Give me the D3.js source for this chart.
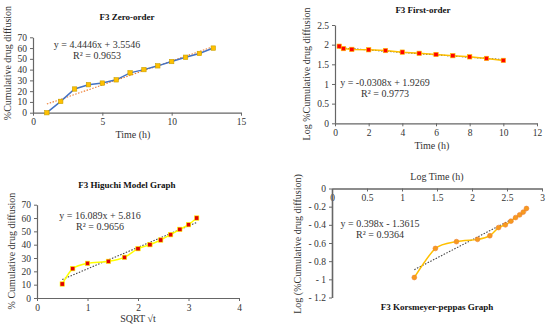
<!DOCTYPE html>
<html>
<head>
<meta charset="utf-8">
<script src="https://cdn.jsdelivr.net/npm/d3@7"></script>
<style>
  body { margin: 0; background: #fff; }
</style>
</head>
<body>
<svg id="chart" width="550" height="328"></svg>
<script>
// Zero-order
const zeroTime = [1, 2, 3, 4, 5, 6, 7, 8, 9, 10, 11, 12, 13];
const zeroRelease = [0, 10.5, 22, 26, 27.5, 30.5, 37, 40, 43.5, 47.5, 51.5, 55, 60];
const zeroFit = [4.4446, 3.5546];

// First-order
const firstTime = [0.25, 0.5, 1, 2, 3, 4, 5, 6, 7, 8, 9, 10];
const firstLog = [1.96, 1.90, 1.88, 1.87, 1.85, 1.81, 1.78, 1.75, 1.72, 1.69, 1.65, 1.60];
const firstFit = [-0.0308, 1.9269];

// Higuchi
const higuchiSqrt = [0.5, 0.707, 1, 1.414, 1.732, 2, 2.236, 2.449, 2.646, 2.828, 3, 3.162];
const higuchiRelease = [10.5, 22, 26, 27.5, 30.5, 37, 40, 43.5, 47.5, 51.5, 55, 60];
const higuchiFit = [16.089, 5.816];

// Korsmeyer-peppas
const kpLogTime = [1.176, 1.477, 1.778, 2.079, 2.255, 2.380, 2.477, 2.556, 2.623, 2.681, 2.732, 2.778];
const kpLogRelease = [-0.98, -0.66, -0.585, -0.56, -0.52, -0.43, -0.40, -0.36, -0.32, -0.29, -0.26, -0.22];
const kpFit = [0.398, -1.3615];

const FONT = "'Liberation Serif', 'Times New Roman', 'DejaVu Serif', serif";
const svg = d3.select("svg#chart");

function drawPanel(p) {
    const g = svg.append("g");
    const x = d3.scaleLinear().domain(p.xDomain).range(p.xRange);
    const y = d3.scaleLinear().domain(p.yDomain).range(p.yRange);

    const xAxisY = p.xAxisAt !== undefined ? y(p.xAxisAt) : p.yRange[0];

    const xa = g.append("g")
        .attr("transform", `translate(0,${xAxisY})`)
        .call(d3.axisBottom(x).tickValues(p.xTicks).tickSize(3).tickSizeOuter(0).tickFormat(p.xFormat || d3.format("")));
    const ya = g.append("g")
        .attr("transform", `translate(${p.xRange[0]},0)`)
        .call(d3.axisLeft(y).tickValues(p.yTicks).tickSize(3).tickSizeOuter(0).tickFormat(p.yFormat || d3.format("")));

    [xa, ya].forEach(a => {
        a.attr("font-family", null);
        a.select(".domain").attr("stroke", "#666").attr("stroke-width", p.axisWidth || 1.2);
        a.selectAll(".tick line").attr("stroke", "#666");
        a.selectAll("text").style("font-family", FONT).style("font-size", "9.5px").style("fill", "#333");
    });

    // trendline from the fitted equation
    const tx = d3.extent(p.xs);
    g.append("line")
        .attr("x1", x(tx[0])).attr("y1", y(p.fit[0] * tx[0] + p.fit[1]))
        .attr("x2", x(tx[1])).attr("y2", y(p.fit[0] * tx[1] + p.fit[1]))
        .attr("stroke", p.trendColor)
        .attr("stroke-width", 1.1)
        .attr("stroke-dasharray", "1.5,1.5");

    const pts = p.xs.map((v, i) => [v, p.ys[i]]);
    g.append("path")
        .attr("d", d3.line().x(d => x(d[0])).y(d => y(d[1])).curve(p.curve || d3.curveLinear)(pts))
        .attr("fill", "none")
        .attr("stroke", p.lineColor)
        .attr("stroke-width", 1.5);

    if (p.marker === "circle") {
        g.selectAll(".pt").data(pts).enter().append("circle")
            .attr("cx", d => x(d[0])).attr("cy", d => y(d[1])).attr("r", 2.4)
            .attr("fill", p.markerFill).attr("stroke", p.markerStroke).attr("stroke-width", 0.6);
    } else {
        g.selectAll(".pt").data(pts).enter().append("rect")
            .attr("x", d => x(d[0]) - 2.2).attr("y", d => y(d[1]) - 2.2)
            .attr("width", 4.4).attr("height", 4.4)
            .attr("fill", p.markerFill).attr("stroke", p.markerStroke).attr("stroke-width", 0.6);
    }

    // titles and labels
    const txt = (s, xx, yy, size) => g.append("text").attr("x", xx).attr("y", yy)
        .attr("text-anchor", "middle").style("font-family", FONT).style("font-size", size + "px")
        .style("fill", "#333").text(s);

    txt(p.title[0], p.title[1], p.title[2], 9).style("font-weight", "bold").style("fill", "#111");
    txt(p.xLabel[0], p.xLabel[1], p.xLabel[2], 10);
    g.append("text")
        .attr("transform", `translate(${p.yLabel[1]},${p.yLabel[2]}) rotate(-90)`)
        .attr("text-anchor", "middle").style("font-family", FONT).style("font-size", "10px")
        .style("fill", "#333").text(p.yLabel[0]);
    txt(p.eq[0], p.eq[1], p.eq[2], 10);
    txt(p.r2, p.eq[1], p.eq[2] + 10.5, 10);
}

drawPanel({
    xs: zeroTime, ys: zeroRelease, fit: zeroFit,
    xDomain: [0, 15], xRange: [33, 241], yDomain: [0, 70], yRange: [112.7, 37.3],
    xTicks: [0, 5, 10, 15], yTicks: d3.range(0, 71, 10),
    lineColor: "#4472c4", trendColor: "#ed7d31", markerFill: "#ffc000", markerStroke: "#c9a000",
    title: ["F3 Zero-order", 127, 20], xLabel: ["Time (h)", 133, 138],
    yLabel: ["%Cumulative drug diffusion", 11, 63],
    eq: ["y = 4.4446x + 3.5546", 97, 48], r2: "R\u00b2 = 0.9653"
});

drawPanel({
    xs: firstTime, ys: firstLog, fit: firstFit,
    xDomain: [0, 12], xRange: [335, 537], yDomain: [0, 2.5], yRange: [123.3, 25],
    xTicks: d3.range(0, 13, 2), yTicks: [0, 0.5, 1, 1.5, 2, 2.5],
    lineColor: "#ffc000", trendColor: "#333", markerFill: "#ff0000", markerStroke: "#ffc000",
    title: ["F3 First-order", 423, 13], xLabel: ["Time (h)", 432, 149],
    yLabel: ["Log %Cumulative drug diffusion", 310, 74],
    eq: ["y = -0.0308x + 1.9269", 385, 86], r2: "R\u00b2 = 0.9773"
});

drawPanel({
    xs: higuchiSqrt, ys: higuchiRelease, fit: higuchiFit,
    xDomain: [0, 4], xRange: [37, 239], yDomain: [0, 70], yRange: [298, 204.7],
    xTicks: [0, 1, 2, 3, 4], yTicks: d3.range(0, 71, 10),
    curve: d3.curveCardinal.tension(0.2),
    lineColor: "#ffff00", trendColor: "#444", markerFill: "#e00000", markerStroke: "#ffff00",
    title: ["F3 Higuchi Model Graph", 127, 188], xLabel: ["SQRT \u221at", 138, 322],
    yLabel: ["% Cumulative drug diffusion", 15, 251],
    eq: ["y = 16.089x + 5.816", 100, 219], r2: "R\u00b2 = 0.9656"
});

drawPanel({
    xs: kpLogTime, ys: kpLogRelease, fit: kpFit,
    xDomain: [0, 3], xRange: [332, 542], yDomain: [-1.2, 0], yRange: [297.5, 188.5], xAxisAt: 0,
    xTicks: [0, 0.5, 1, 1.5, 2, 2.5, 3], yTicks: d3.range(-12, 1, 2).map(v => v / 10),
    xFormat: d3.format(""),
    yFormat: v => v < 0 ? "- " + d3.format("")(-v) : "0",
    axisWidth: 1.6, marker: "circle",
    curve: d3.curveCardinal.tension(0.2),
    lineColor: "#ffc000", trendColor: "#444", markerFill: "#f79a1e", markerStroke: "#ed7d31",
    title: ["F3 Korsmeyer-peppas Graph", 437, 310], xLabel: ["Log Time (h)", 437, 180],
    yLabel: ["Log (%Cumulative drug diffusion)", 301, 244],
    eq: ["y = 0.398x - 1.3615", 380, 227], r2: "R\u00b2 = 0.9364"
});
</script>
</body>
</html>
